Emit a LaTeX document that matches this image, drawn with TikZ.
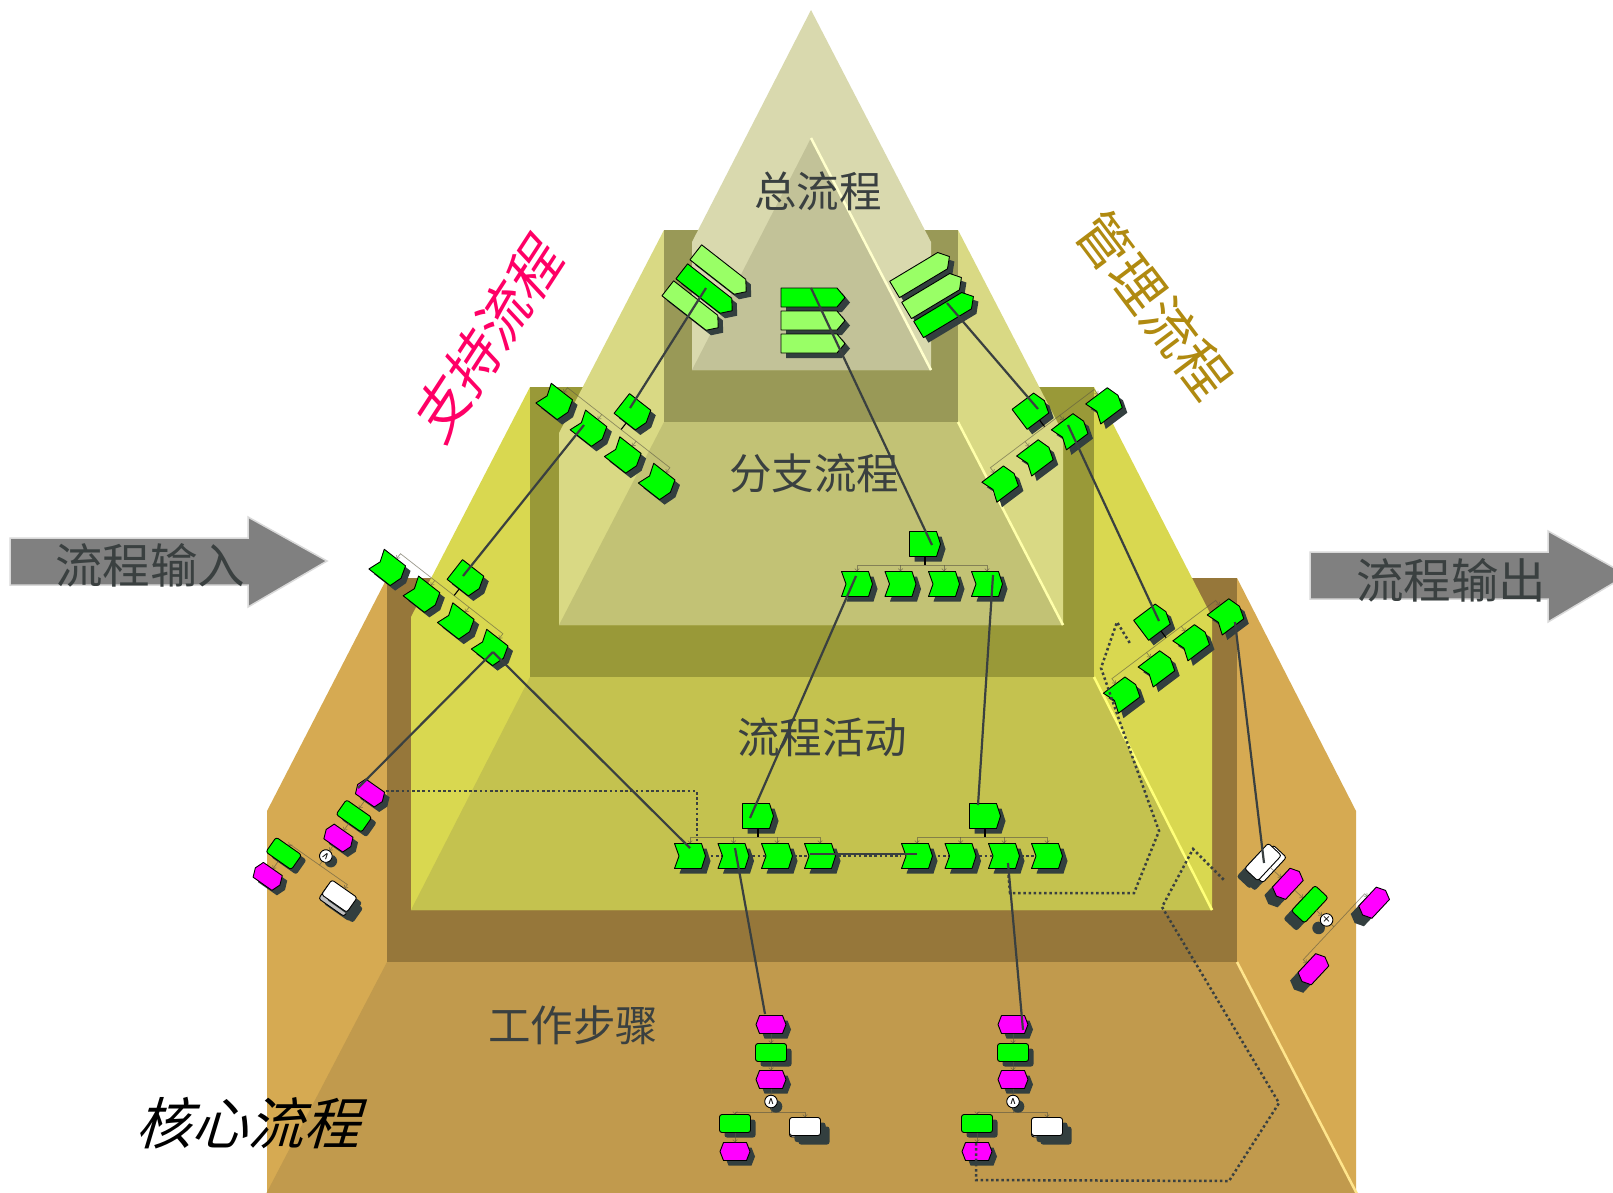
\documentclass[tikz,border=0pt]{standalone}
\usepackage{fontspec}
\newfontfamily\cjk{Noto Sans CJK SC}
\newfontfamily\opfont{DejaVu Sans}
\usetikzlibrary{arrows.meta}
\definecolor{fgreen}{HTML}{00FF00}
\definecolor{lgreen}{HTML}{99FF66}
\definecolor{mag}{HTML}{FF00FF}
\definecolor{shadowc}{HTML}{333F3F}
\definecolor{linec}{HTML}{3A4040}
\definecolor{labc}{HTML}{3A4040}
\tikzset{
  lab/.style={text=labc,font=\cjk\fontsize{42.5}{50}\selectfont,inner sep=0pt},
  biglab/.style={font=\cjk\fontsize{#1}{#1}\selectfont,inner sep=0pt},
  outl/.style={draw=black,line width=0.9pt,line join=round},
  solidl/.style={draw=linec,line width=2.2pt},
  dotl/.style={draw=linec,line width=2.5pt,dash pattern=on 2.5pt off 2.7pt},
  trunk/.style={draw=black,line width=1.1pt},
  treel/.style={draw=black!75!yellow,line width=0.7pt,opacity=0.6},
  tip/.style={-{Straight Barb[length=2.5pt,width=4.5pt]}},
  bigarrow/.style={fill=black!50,draw=black!15,line width=1.5pt,line join=miter},
  edgel/.style={line width=2.5pt},
}
\def\pchev{(-15.5,-12.5)--(11.5,-12.5)--(15.5,0)--(11.5,12.5)--(-15.5,12.5)--(-11,0)--cycle}
\def\ppent{(-15.5,-12.5)--(11.5,-12.5)--(15.5,0)--(11.5,12.5)--(-15.5,12.5)--cycle}
\def\plong{(-32,-9.5)--(24,-9.5)--(32,0)--(24,9.5)--(-32,9.5)--cycle}
\def\phex{(-15,0)--(-11.5,-9)--(11.5,-9)--(15,0)--(11.5,9)--(-11.5,9)--cycle}
\def\prr{[rounded corners=2.5pt](-15.5,-9)rectangle(15.5,9)}
\def\pcirc{(0,0) circle (6.3)}
\def\gx{0}\def\gy{0}\def\gr{0}\def\sdx{5}\def\sdy{5}\def\gsx{1}
% shadow only
\newcommand\shd[3]{\begin{scope}[shift={(\gx+\sdx,\gy+\sdy)},rotate=\gr,shift={(#1,#2)},xscale=\gsx]\fill[shadowc] #3;\end{scope}}
% shape with shadow and named centre: name, lx, ly, path, fill
\newcommand\shp[5]{\shd{#2}{#3}{#4}%
  \begin{scope}[shift={(\gx,\gy)},rotate=\gr,shift={(#2,#3)},xscale=\gsx]\draw[outl,fill=#5] #4;\coordinate (#1) at (0,0);\end{scope}}
% tree group: name,x,y,rot,dots
\newcommand\grp[5]{\def\gx{#2}\def\gy{#3}\def\gr{#4}%
  \begin{scope}[shift={(#2,#3)},rotate=#4]
    \coordinate (#1-b) at (0,21);
    \coordinate (#1-1) at (-68,40);\coordinate (#1-2) at (-24.5,40);
    \coordinate (#1-3) at (19,40);\coordinate (#1-4) at (62,40);
    \ifnum#5=1 \draw[dotl] (#1-1)--(#1-2)--(#1-3)--(#1-4);\fi
  \end{scope}
  \shp{#1-p}{0}{0}{\ppent}{fgreen}
  \shp{#1-1}{-68}{40}{\pchev}{fgreen}
  \shp{#1-2}{-24.5}{40}{\pchev}{fgreen}
  \shp{#1-3}{19}{40}{\pchev}{fgreen}
  \shp{#1-4}{62}{40}{\pchev}{fgreen}
  \begin{scope}[shift={(#2,#3)},rotate=#4]
    \draw[trunk] (0,12.5)--(0,21);
    \draw[treel,tip] (0,21)--(-68,21)--(-68,27.5);
    \draw[treel,tip] (-24.5,21)--(-24.5,27.5);
    \draw[treel,tip] (19,21)--(19,27.5);
    \draw[treel,tip] (0,21)--(62,21)--(62,27.5);
  \end{scope}}
% work steps: name,x,y,rot,back offset
\newcommand\proc[5]{\def\gx{#2}\def\gy{#3}\def\gr{#4}%
  \shp{#1-h1}{0}{0}{\phex}{mag}
  \shp{#1-g1}{0}{28}{\prr}{fgreen}
  \shp{#1-h2}{0}{55}{\phex}{mag}
  \shp{#1-c}{0}{77}{\pcirc}{white}
  \shp{#1-g2}{-36}{99}{\prr}{fgreen}
  \shd{38}{106}{\prr}
  \shp{#1-w2}{34}{{102+#5}}{\prr}{black!25}
  \shp{#1-w}{34}{102}{\prr}{white}
  \shp{#1-h3}{-36}{127}{\phex}{mag}
  \begin{scope}[shift={(#2,#3)},rotate=#4]
    \draw[treel,tip] (0,9)--(0,19);
    \draw[treel,tip] (0,37)--(0,46);
    \draw[treel,tip] (0,64)--(0,70.7);
    \draw[treel] (0,83.3)--(0,88);
    \draw[treel,tip] (0,88)--(-36,88)--(-36,90);
    \draw[treel,tip] (0,88)--(34,88)--(34,93);
    \draw[treel,tip] (-36,108)--(-36,118);
    \node[inner sep=0pt,rotate=#4,font=\opfont\fontsize{10}{10}\selectfont] (#1-op) at (0,77) {∧};
  \end{scope}}
\begin{document}
\begin{tikzpicture}[x=1pt,y=-1pt]
\useasboundingbox (0,0) rectangle (1613,1192);
\clip (0,0) rectangle (1613,1192);
% level 4
\fill[fill=white] (0,0) rectangle (1613,1192);
\fill[fill={rgb,255:red,214;green,170;blue,82}] (387,578)--(1237,578)--(1356,811)--(1356,1194)--(267,1194)--(267,811)--cycle;
\fill[fill={rgb,255:red,150;green,119;blue,58}] (387,578) rectangle (1237,962);
\fill[fill={rgb,255:red,193;green,154;blue,77}] (387,962)--(1237,962)--(1357,1194)--(266,1194)--cycle;
\draw[edgel,draw={rgb,255:red,255;green,229;blue,140}] (1237,962)--(1357,1194);
% level 3
\fill[fill={rgb,255:red,217;green,216;blue,80}] (530,387)--(1094,387)--(1212,617)--(1212,910)--(411,910)--(411,617)--cycle;
\fill[fill={rgb,255:red,153;green,153;blue,56}] (530,387) rectangle (1094,677);
\fill[fill={rgb,255:red,196;green,194;blue,79}] (530,677)--(1094,677)--(1212,910)--(411,910)--cycle;
\draw[edgel,draw={rgb,255:red,255;green,255;blue,120}] (1094,677)--(1212,910);
% level 2
\fill[fill={rgb,255:red,217;green,217;blue,132}] (664,230)--(958,230)--(1063,433)--(1063,625)--(559,625)--(559,433)--cycle;
\fill[fill={rgb,255:red,153;green,153;blue,87}] (664,230) rectangle (958,422);
\fill[fill={rgb,255:red,194;green,194;blue,117}] (664,422)--(958,422)--(1063,625)--(559,625)--cycle;
\draw[edgel,draw={rgb,255:red,255;green,255;blue,170}] (958,422)--(1063,625);
% level 1
\fill[fill={rgb,255:red,217;green,217;blue,174}] (811,10)--(931,242)--(931,370)--(692,370)--(692,242)--cycle;
\fill[fill={rgb,255:red,194;green,194;blue,152}] (811,138)--(931,370)--(692,370)--cycle;
\draw[edgel,draw={rgb,255:red,255;green,255;blue,204}] (811,138)--(931,370);
% arrows
\draw[bigarrow] (10,538)--(248,538)--(248,517)--(327,561)--(248,607)--(248,585)--(10,585)--cycle;
\draw[bigarrow] (1310,552)--(1548,552)--(1548,531)--(1627,575)--(1548,622)--(1548,599)--(1310,599)--cycle;
% labels
\node[lab] (t1) at (818,191) {总流程};
\node[lab] (t2) at (814,473) {分支流程};
\node[lab] (t3) at (822,737) {流程活动};
\node[lab] (t4) at (573,1025) {工作步骤};
\node[lab,font=\cjk\fontsize{47.5}{50}\selectfont] (t5) at (150,565) {流程输入};
\node[lab,font=\cjk\fontsize{47.5}{50}\selectfont] (t6) at (1451,580) {流程输出};
\node[biglab=56,text=black,xslant=0.3] (t7) at (254,1123) {核心流程};
\node[biglab=56,text={rgb,255:red,255;green,0;blue,102},rotate=57,xslant=0.25] (t8) at (489,337) {支持流程};
\node[biglab=54,text={rgb,255:red,176;green,138;blue,16},rotate=-53] (t9) at (1154,305) {管理流程};
% top stacks
\def\gr{0}\def\gx{813}\def\gy{297.5}
\shp{m1}{0}{0}{\plong}{fgreen}
\def\gy{320.5}\shp{m2}{0}{0}{\plong}{lgreen}
\def\gy{343.5}\shp{m3}{0}{0}{\plong}{lgreen}
\def\gr{-38}\def\gx{721}\def\gy{272}\shp{l1}{0}{0}{\plong}{lgreen}
\def\gx{693}\def\gy{308}\shp{l3}{0}{0}{\plong}{lgreen}
\def\gx{707}\def\gy{291}\shp{l2}{0}{0}{\plong}{fgreen}
\def\gr{31}\def\gx{922}\def\gy{273}\shp{r1}{0}{0}{\plong}{lgreen}
\def\gx{934}\def\gy{294}\shp{r2}{0}{0}{\plong}{lgreen}
\def\gx{946}\def\gy{313}\shp{r3}{0}{0}{\plong}{fgreen}
% trees
\grp{A}{925}{544}{0}{0}
\grp{B}{634}{413}{-38}{0}
\grp{C}{467}{579}{-38}{0}
\grp{D}{1032}{410}{37}{0}
\grp{E}{1153.5}{621}{37}{0}
\grp{F}{758}{816}{0}{1}
\grp{G}{985}{816}{0}{1}
% work steps
\proc{s1}{771}{1024.5}{0}{1.5}
\proc{s2}{1013}{1024.5}{0}{1.5}
\proc{L}{370}{793}{-35}{5}
% right-hand rotated steps
\def\gx{1263}\def\gy{862}\def\gr{47}\def\sdx{-8}\def\sdy{8}\def\gsx{1.12}
\shp{Rw2}{2}{5}{\prr}{white}
\shp{Rw}{0}{0}{\prr}{white}
\shp{Rh1}{1}{33}{\phex}{mag}
\shp{Rg}{1}{63}{\prr}{fgreen}
\def\gsx{1}\shp{Rc}{1}{86}{\pcirc}{white}
\def\gsx{1.12}
\shp{Rh2}{46}{109}{\phex}{mag}
\shp{Rh3}{-44}{110}{\phex}{mag}
\begin{scope}[shift={(\gx,\gy)},rotate=\gr]
  \draw[treel,tip] (1,9)--(1,24);
  \draw[treel,tip] (1,42)--(1,54);
  \draw[treel,tip] (1,72)--(1,79.7);
  \draw[treel] (1,92.3)--(1,96);
  \draw[treel,tip] (1,96)--(46,96)--(46,100);
  \draw[treel,tip] (1,96)--(-44,96)--(-44,101);
\end{scope}
\node[inner sep=0pt,font=\opfont\fontsize{10}{10}\selectfont] (Rop) at (Rc) {×};
\def\sdx{5}\def\sdy{5}\def\gsx{1}
% free ends of connectors
\coordinate (m1e) at (811,288);
\coordinate (Fe) at (690,848);
\coordinate (F2e) at (735,848);
\coordinate (F4e) at (810,854);
\coordinate (G1e) at (917,854);
\coordinate (Gtop) at (978,805);
\coordinate (G3e) at (1008,863);
\coordinate (C4e) at (493,652);
\coordinate (Lh) at (358,788);
\coordinate (s1t) at (765,1014);
\coordinate (s2e) at (1023,1030);
\coordinate (E4e) at (1235,622);
\coordinate (Rwe) at (1264,863);
\coordinate (A1e) at (856,576);
\coordinate (A4e) at (993,575);
\coordinate (Fpe) at (750,818);
\coordinate (Ape) at (932,545);
\coordinate (B2e) at (584,425);
\coordinate (Cpe) at (463,576);
\coordinate (D3e) at (1068,425);
\coordinate (Epe) at (1159,621);
\coordinate (Dpe) at (1038,409);
\coordinate (r3e) at (947,303);
\coordinate (l2e) at (706,288);
\coordinate (Bpe) at (630,408);
% dotted routes
\coordinate (d1) at (386,791);\coordinate (d2) at (697,791);\coordinate (d3) at (697,843);
\draw[dotl] (d1)--(d2)--(d3);
\coordinate (e1) at (1008,870);\coordinate (e2) at (1010,893);\coordinate (e3) at (1134,893);
\coordinate (e4) at (1159,831);\coordinate (e5) at (1122,728);\coordinate (e6) at (1101,668);
\coordinate (e7) at (1117,622);\coordinate (e8) at (1131,645);
\draw[dotl] (e1)--(e2)--(e3)--(e4)--(e5)--(e6)--(e7)--(e8);
\coordinate (f1) at (976,1143);\coordinate (f2) at (976,1180);\coordinate (f3) at (1229,1181);
\coordinate (f4) at (1279,1103);\coordinate (f5) at (1162,907);\coordinate (f6) at (1193,849);
\coordinate (f7) at (1224,880);
\draw[dotl] (f1)--(f2)--(f3)--(f4)--(f5)--(f6)--(f7);
\coordinate (g1) at (838,856);\coordinate (g2) at (901,856);
\draw[dotl] (g1)--(g2);
% solid connectors
\draw[solidl] (l2e)--(Bpe);
\draw[solidl] (m1e)--(Ape);
\draw[solidl] (r3e)--(Dpe);
\draw[solidl] (B2e)--(Cpe);
\draw[solidl] (D3e)--(Epe);
\draw[solidl] (A1e)--(Fpe);
\draw[solidl] (A4e)--(Gtop);
\draw[solidl] (C4e)--(Lh);
\draw[solidl] (C4e)--(Fe);
\draw[solidl] (F2e)--(s1t);
\draw[solidl] (G3e)--(s2e);
\draw[solidl] (E4e)--(Rwe);
\draw[solidl] (F4e)--(G1e);
\end{tikzpicture}
\end{document}
